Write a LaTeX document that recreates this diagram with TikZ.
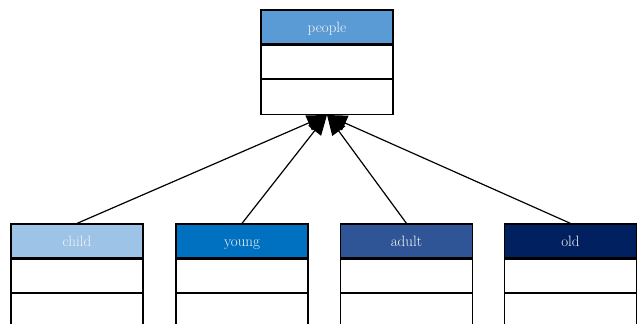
\documentclass[tikz,border=0pt]{standalone}
\usetikzlibrary{arrows.meta}
\definecolor{peopleblue}{HTML}{5B9BD5}
\definecolor{childblue}{HTML}{9DC3E6}
\definecolor{youngblue}{HTML}{0070C0}
\definecolor{adultblue}{HTML}{2F5597}
\definecolor{oldblue}{HTML}{002060}
\begin{document}
\begin{tikzpicture}[x=1pt, y=-1pt,
        classhead/.style={draw, line width=1.2pt, minimum width=132pt, minimum height=34pt, inner sep=0pt, text height=13pt, text depth=2pt, text=white!92!gray, font=\fontsize{15}{17}\selectfont},
        classpart/.style={draw, line width=1.2pt, fill=white, minimum width=132pt, minimum height=33pt, inner sep=0pt}]
        \useasboundingbox (0,0) rectangle (641,324);
        \node[classhead, fill=peopleblue] (people) at (327,27) {people};
        \node[classpart, anchor=north] (people-attr) at (people.south) {};
        \node[classpart, anchor=north, minimum height=35pt] (people-ops) at (people-attr.south) {};
        \draw[line width=2.6pt] (people-attr.south west) -- (people-attr.south east);
        \foreach \name/\x/\col in {child/77/childblue, young/242/youngblue, adult/406.5/adultblue, old/570.5/oldblue} {
            \node[classhead, fill=\col] (\name) at (\x,241) {\name};
            \node[classpart, anchor=north] (\name-attr) at (\name.south) {};
            \node[classpart, anchor=north, minimum height=40pt] (\name-ops) at (\name-attr.south) {};
            \draw[-{Triangle[length=20pt, width=16pt]}, line width=1.2pt] (\name.north) -- (people-ops.south);
        }
    \end{tikzpicture}
\end{document}
